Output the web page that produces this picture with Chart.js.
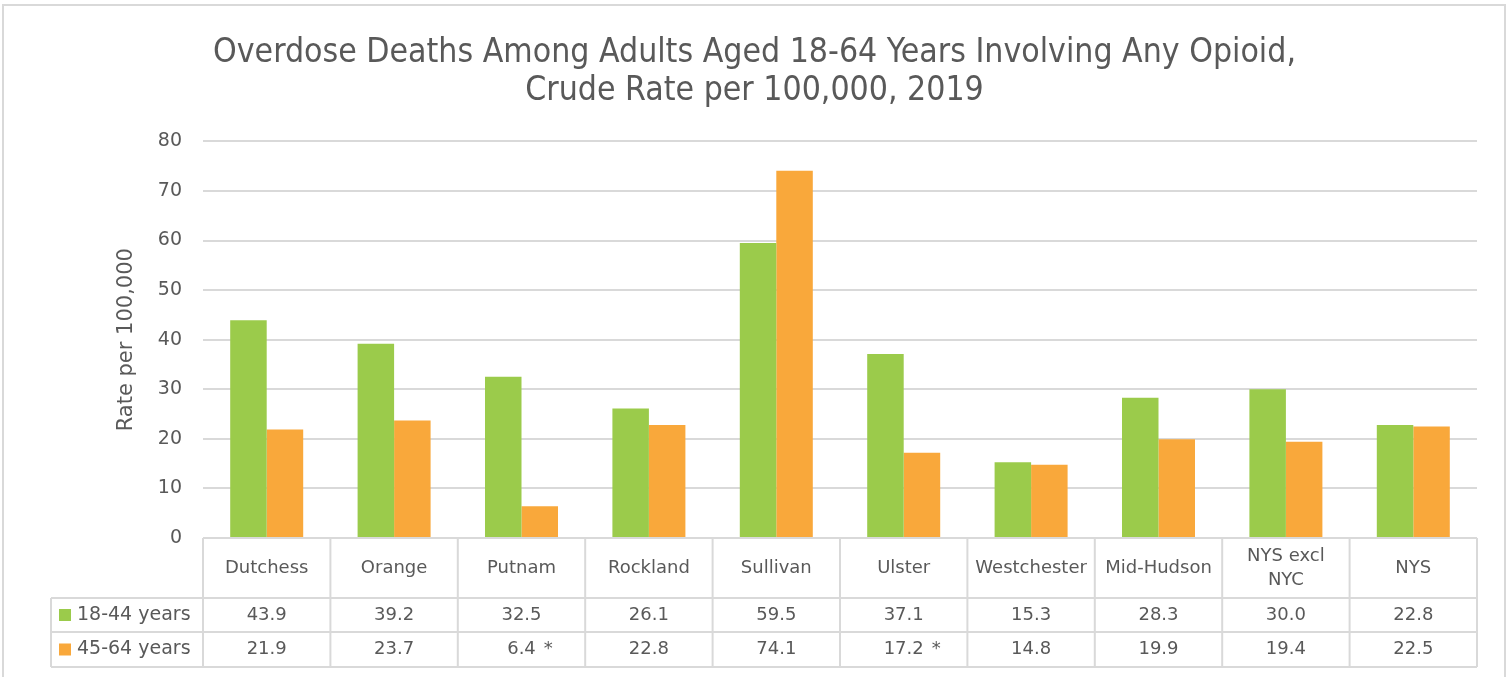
<!DOCTYPE html>
<html>
<head>
<meta charset="utf-8">
<script src="https://cdn.jsdelivr.net/npm/chart.js@4"></script>
<style>
  html, body { margin: 0; padding: 0; background: #fff; }
  #wrap { width: 1509px; height: 677px; }
</style>
</head>
<body>
<div id="wrap"><canvas id="opioidChart" width="1509" height="677"></canvas></div>
<script>
const categories = ['Dutchess', 'Orange', 'Putnam', 'Rockland', 'Sullivan', 'Ulster',
  'Westchester', 'Mid-Hudson', ['NYS excl', 'NYC'], 'NYS'];
const rate18to44 = [43.9, 39.2, 32.5, 26.1, 59.5, 37.1, 15.3, 28.3, 30.0, 22.8];
const rate45to64 = [21.9, 23.7, 6.4, 22.8, 74.1, 17.2, 14.8, 19.9, 19.4, 22.5];
const notes45to64 = ['', '', '*', '', '', '*', '', '', '', ''];
const seriesNames = ['18-44 years', '45-64 years'];
const yTicks = [0, 10, 20, 30, 40, 50, 60, 70, 80];

const GREEN = '#9BCB4B';
const ORANGE = '#F9A83B';
const TEXT = '#595959';
const LINE = '#D9D9D9';
const FONT = "'DejaVu Sans', sans-serif";

// draws the data table under the bars, lined up with the x scale
const dataTable = {
  id: 'dataTable',
  beforeDraw(chart) {
    const ctx = chart.ctx;
    ctx.save();
    ctx.strokeStyle = LINE;
    ctx.lineWidth = 2;
    ctx.strokeRect(3, 5, 1502, 690);
    ctx.restore();
  },
  afterDraw(chart) {
    const { ctx, chartArea: a, scales: { x } } = chart;
    const n = categories.length;
    const colW = (a.right - a.left) / n;
    const top = a.bottom;
    const headBot = top + 60;
    const row1Bot = headBot + 34;
    const row2Bot = row1Bot + 35;
    const legLeft = a.left - 152;

    ctx.save();
    ctx.strokeStyle = LINE;
    ctx.lineWidth = 2;
    ctx.beginPath();
    ctx.moveTo(a.left, top); ctx.lineTo(a.right, top);
    [headBot, row1Bot, row2Bot].forEach(y => { ctx.moveTo(legLeft, y); ctx.lineTo(a.right, y); });
    for (let i = 0; i <= n; i++) {
      const xx = a.left + i * colW;
      ctx.moveTo(xx, top); ctx.lineTo(xx, row2Bot);
    }
    ctx.moveTo(legLeft, headBot); ctx.lineTo(legLeft, row2Bot);
    ctx.stroke();

    ctx.fillStyle = TEXT;
    ctx.font = '18px ' + FONT;
    ctx.textAlign = 'center';
    ctx.textBaseline = 'middle';
    categories.forEach((c, i) => {
      const cx = x.getPixelForValue(i);
      const lines = Array.isArray(c) ? c : [c];
      const mid = (top + headBot) / 2;
      lines.forEach((t, j) => {
        ctx.fillText(t, cx, mid + (j - (lines.length - 1) / 2) * 24);
      });
      ctx.fillText(rate18to44[i].toFixed(1), cx, (headBot + row1Bot) / 2);
      const v = rate45to64[i].toFixed(1);
      const y2 = (row1Bot + row2Bot) / 2;
      ctx.fillText(v, cx, y2);
      if (notes45to64[i]) {
        ctx.textAlign = 'left';
        ctx.fillText(notes45to64[i], cx + ctx.measureText(v).width / 2 + 8, y2);
        ctx.textAlign = 'center';
      }
    });

    // legend keys in the row headers
    const colors = [GREEN, ORANGE];
    ctx.font = '19px ' + FONT;
    [(headBot + row1Bot) / 2, (row1Bot + row2Bot) / 2].forEach((y, k) => {
      ctx.fillStyle = colors[k];
      ctx.fillRect(legLeft + 8, y - 6, 12, 12);
      ctx.fillStyle = TEXT;
      ctx.textAlign = 'left';
      ctx.fillText(seriesNames[k], legLeft + 26, y);
    });
    ctx.restore();
  }
};

new Chart(document.getElementById('opioidChart'), {
  type: 'bar',
  data: {
    labels: categories,
    datasets: [
      { label: seriesNames[0], data: rate18to44, backgroundColor: GREEN },
      { label: seriesNames[1], data: rate45to64, backgroundColor: ORANGE }
    ]
  },
  options: {
    responsive: false,
    animation: false,
    categoryPercentage: 0.573,
    barPercentage: 1.0,
    layout: { padding: { left: 32, right: 32, top: 0, bottom: 139 } },
    scales: {
      x: { display: false },
      y: {
        min: 0,
        max: 80,
        afterFit(scale) { scale.width = 171; },
        afterBuildTicks(scale) { scale.ticks = yTicks.map(v => ({ value: v })); },
        border: { display: false },
        grid: { color: LINE, lineWidth: 2, drawTicks: false },
        ticks: { color: TEXT, padding: 21, font: { family: FONT, size: 19 } },
        title: {
          display: true,
          text: 'Rate per 100,000',
          color: TEXT,
          padding: { top: 82, bottom: 0 },
          font: { family: FONT, size: 21 }
        }
      }
    },
    plugins: {
      legend: { display: false },
      tooltip: { enabled: false },
      title: {
        display: true,
        text: ['Overdose Deaths Among Adults Aged 18-64 Years Involving Any Opioid,',
               'Crude Rate per 100,000, 2019'],
        color: TEXT,
        font: { family: "'Liberation Sans Narrow', 'DejaVu Sans Condensed', sans-serif", size: 33.5, weight: 'normal', lineHeight: 1.14 },
        padding: { top: 34, bottom: 31 }
      }
    }
  },
  plugins: [dataTable]
});
</script>
</body>
</html>
